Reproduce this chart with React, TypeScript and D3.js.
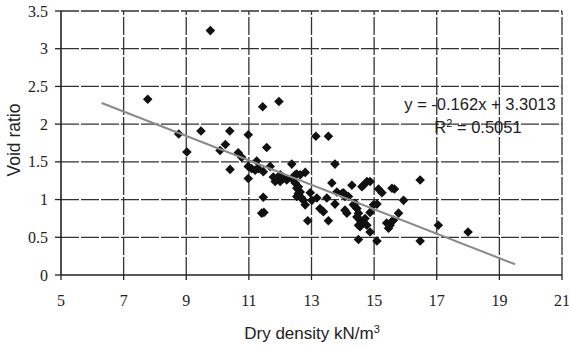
import React from "react";
import * as d3 from "d3";

const densities: number[] = [
  7.77, 8.76, 9.02, 9.47, 9.77, 10.39, 10.98, 11.44, 11.96, 10.25, 10.08, 11.57, 10.66, 10.77,
  10.4, 10.98, 11.09, 11.2, 11.3, 11.25, 10.98, 11.46, 11.68, 12.37, 11.78, 11.89, 12.0, 12.1,
  12.21, 12.0, 11.84, 12.37, 12.48, 12.53, 12.58, 12.53, 12.48, 11.46, 11.41, 11.48, 13.75,
  12.8, 12.64, 12.69, 12.8, 12.74, 12.96, 13.01, 13.17, 13.27, 13.38, 13.49, 13.65, 13.81,
  13.97, 14.07, 14.18, 13.75, 14.07, 14.13, 13.54, 12.88, 14.29, 14.61, 14.66, 14.77, 14.45,
  14.5, 14.55, 14.61, 14.5, 14.71, 14.77, 14.39, 14.5, 14.87, 16.47, 14.87, 15.14, 15.25,
  15.57, 15.65, 15.94, 14.98, 15.09, 14.87, 15.78, 15.4, 15.51, 15.46, 15.57, 15.62, 15.09,
  16.47, 17.05, 18.0, 13.14, 13.54, 12.58, 12.64, 14.34, 14.45, 14.55, 14.02, 12.53,
];
const voidRatios: number[] = [
  2.33, 1.87, 1.63, 1.91, 3.24, 1.91, 1.86, 2.23, 2.3, 1.73, 1.65, 1.69, 1.62, 1.56,
  1.4, 1.44, 1.41, 1.39, 1.41, 1.51, 1.28, 1.37, 1.44, 1.47, 1.3, 1.28, 1.33, 1.28,
  1.26, 1.24, 1.24, 1.28, 1.22, 1.15, 1.08, 1.04, 1.33, 1.03, 0.82, 0.83, 1.47,
  1.36, 1.33, 1.02, 0.93, 0.99, 1.09, 0.99, 1.02, 0.88, 0.84, 1.02, 1.22, 1.1,
  1.08, 1.04, 1.04, 0.94, 0.86, 0.82, 0.72, 0.72, 1.19, 1.17, 1.19, 1.24, 0.88,
  0.82, 0.73, 0.71, 0.66, 0.75, 0.66, 0.95, 0.47, 0.57, 1.26, 1.24, 1.14, 1.09,
  1.15, 1.14, 0.99, 0.93, 0.94, 0.83, 0.82, 0.69, 0.66, 0.62, 0.71, 0.73, 0.45,
  0.45, 0.66, 0.57, 1.84, 1.84, 1.17, 1.1, 0.93, 0.77, 0.64, 1.09, 1.34,
];
const xTicks: number[] = [5, 7, 9, 11, 13, 15, 17, 19, 21];
const yTicks: number[] = [0, 0.5, 1, 1.5, 2, 2.5, 3, 3.5];
const trendSlope = -0.162;
const trendIntercept = 3.3013;
const trendRange: number[] = [6.3, 19.5];
const equationText = "y = -0.162x + 3.3013";
const r2Value = "0.5051";

export default function App() {
  const W = 569, H = 346;
  const x = d3.scaleLinear().domain([5, 21]).range([61, 562]);
  const y = d3.scaleLinear().domain([0, 3.5]).range([275, 11]);
  const pts = densities.map((d, i) => ({ x: d, y: voidRatios[i] }));
  const diamond = (cx: number, cy: number) => {
    const r = 4.8;
    return `M${cx},${cy - r}L${cx + r},${cy}L${cx},${cy + r}L${cx - r},${cy}Z`;
  };
  const line = d3
    .line<number>()
    .x((d) => x(d))
    .y((d) => y(trendSlope * d + trendIntercept));
  return (
    <svg
      width={W}
      height={H}
      style={{ position: "absolute", left: 0, top: 0, background: "#fff" }}
    >
      <rect x={0} y={0} width={W} height={H} fill="#fff" />
      {yTicks.slice(1).map((t) => (
        <line key={"gy" + t} x1={x(5)} x2={x(21)} y1={y(t)} y2={y(t)} stroke="#333" strokeWidth={1.3} strokeDasharray="18,2" />
      ))}
      {xTicks.slice(1).map((t) => (
        <line key={"gx" + t} x1={x(t)} x2={x(t)} y1={y(0)} y2={y(3.5)} stroke="#333" strokeWidth={1.3} strokeDasharray="18,2" />
      ))}
      <line x1={x(5)} x2={x(5)} y1={y(0)} y2={y(3.5)} stroke="#222" strokeWidth={1.6} />
      <line x1={x(5)} x2={x(21)} y1={y(0)} y2={y(0)} stroke="#222" strokeWidth={1.6} />
      {yTicks.map((t) => (
        <g key={"ty" + t}>
          <line x1={x(5) - 6} x2={x(5)} y1={y(t)} y2={y(t)} stroke="#222" strokeWidth={1.3} />
          <text x={48} y={y(t)} dy="0.35em" textAnchor="end" fontFamily="Liberation Serif" fontSize={16} fill="#222">
            {t}
          </text>
        </g>
      ))}
      {xTicks.map((t) => (
        <g key={"tx" + t}>
          <line x1={x(t)} x2={x(t)} y1={y(0)} y2={y(0) + 5} stroke="#222" strokeWidth={1.3} />
          <text x={x(t)} y={300} dy="0.35em" textAnchor="middle" fontFamily="Liberation Serif" fontSize={16} fill="#222">
            {t}
          </text>
        </g>
      ))}
      {pts.map((p, i) => (
        <path key={"p" + i} d={diamond(x(p.x), y(p.y))} fill="#111" />
      ))}
      <path d={line(trendRange) || ""} stroke="#8a8a8a" strokeWidth={2} fill="none" />
      <text x={480} y={104} dy="0.35em" textAnchor="middle" fontFamily="Liberation Sans" fontSize={16.5} fill="#222">
        {equationText}
      </text>
      <text x={478} y={127} dy="0.35em" textAnchor="middle" fontFamily="Liberation Sans" fontSize={16.5} fill="#222">
        R<tspan dy="-6" fontSize={11}>2</tspan>
        <tspan dy="6"> = {r2Value}</tspan>
      </text>
      <text transform={`translate(14,140) rotate(-90)`} dy="0.35em" textAnchor="middle" fontFamily="Liberation Sans" fontSize={17.5} fill="#222">
        Void ratio
      </text>
      <text x={312} y={333} dy="0.35em" textAnchor="middle" fontFamily="Liberation Sans" fontSize={17} fill="#222">
        Dry density kN/m<tspan dy="-6" fontSize={11}>3</tspan>
      </text>
    </svg>
  );
}
